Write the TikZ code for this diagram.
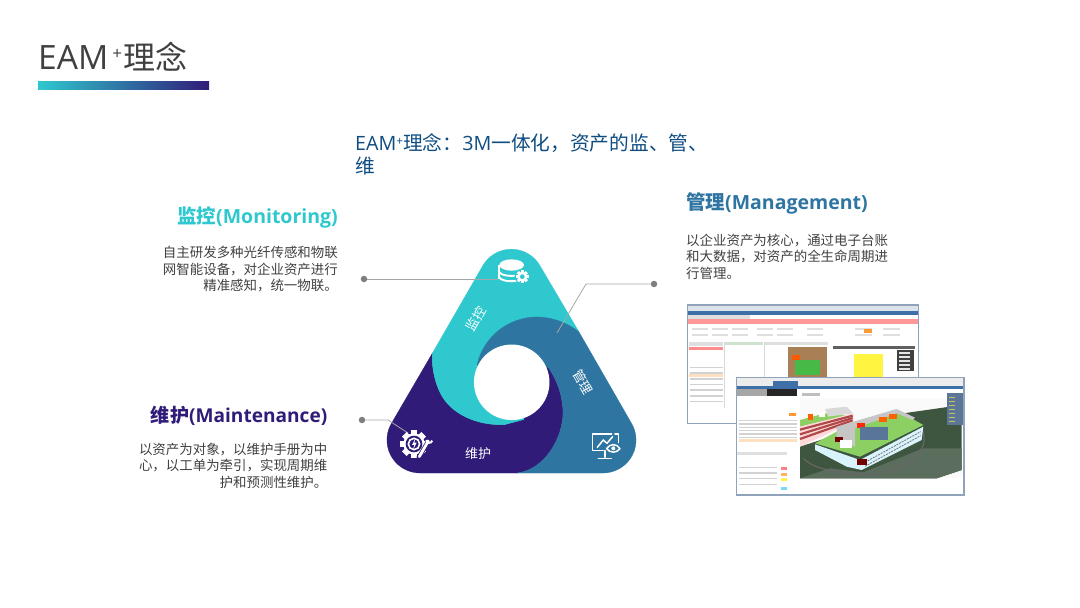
\documentclass[tikz,border=0pt]{standalone}
\usepackage{fontspec}
\setmainfont{Open Sans}
\newfontfamily\cjk{Noto Sans CJK SC}
\usepackage{xcolor}
\usetikzlibrary{positioning,calc}
\definecolor{eamteal}{HTML}{2EC8CE}
\definecolor{eamblue}{HTML}{2E75A2}
\definecolor{eampurple}{HTML}{301C78}
\definecolor{eamline}{HTML}{A6A6A6}
\definecolor{eamdot}{HTML}{7F7F7F}
\definecolor{eamtext}{HTML}{404040}
\definecolor{eamlead}{HTML}{0F4C81}
\definecolor{eamframe}{HTML}{8FA3BA}
\definecolor{winbar}{HTML}{3F6FA8}
\definecolor{ground}{HTML}{3E5540}
\definecolor{roof}{HTML}{8CCF62}
\definecolor{stripe}{HTML}{B04A4A}
\tikzset{
  titlelabel/.style={anchor=base west, inner sep=0pt, text=eamtext},
  leadlabel/.style={anchor=base west, inner sep=0pt, text=eamlead, align=left,
    font=\fontsize{19.7}{23}\selectfont},
  headlabel/.style={inner sep=0pt, font=\fontsize{19.5}{23}\selectfont\bfseries},
  bodylabel/.style={inner sep=0pt, text=eamtext, font=\fontsize{13.45}{16.5}\selectfont\cjk},
  petallabel/.style={inner sep=0pt, text=white, font=\fontsize{13}{15}\selectfont\cjk},
  leaderdot/.style={circle, fill=eamdot, inner sep=0pt, minimum size=6.5pt},
  leaderline/.style={draw=eamline, line width=0.8pt},
  petal/.style={line width=0.3pt, line join=round},
  iconline/.style={draw=white, line width=1.5pt, line cap=round, line join=round},
  winframe/.style={draw=eamframe, line width=1.3pt, fill=white},
}
\newcommand{\gearshape}[3]{% centre, radius, colour
  \foreach \a in {0,45,...,135}
    \fill[#3, rotate around={\a:(#1)}] ($(#1)+(-#2*1.28,-#2*0.3)$) rectangle ($(#1)+(#2*1.28,#2*0.3)$);
  \fill[#3] (#1) circle[radius=#2];
}
\begin{document}
\begin{tikzpicture}[x=1pt, y=-1pt]
  \useasboundingbox (0,0) rectangle (1080,608);

  % title
  \node (title) [titlelabel, font=\fontsize{33.5}{38}\selectfont] at (38,69)
    {EAM\hspace{4pt}\raisebox{10pt}{\fontsize{17}{17}\selectfont +}\hspace{1.5pt}{\cjk\fontsize{32}{38}\selectfont 理念}};
  \shade[left color=eamteal, middle color=eamblue, right color=eampurple] (38,81) rectangle (209,89);

  % lead text
  \node (lead) [leadlabel] at (355,173)
    {EAM\raisebox{5pt}{\fontsize{12}{12}\selectfont +}{\cjk 理念：}3M{\cjk 一体化，资产的监、管、}\\{\cjk 维}};

  % triangle
  \fill[eampurple, draw=eampurple, petal] (432.5,353) -- (391.4,423.5)
    arc[start angle=210, end angle=90, x radius=33, y radius=33] -- (517,473)
    .. controls (545,470) and (563,437) .. (563,413)
    .. controls (563,395) and (556,378) .. (548,367) -- (512,382) -- (524,419.5) -- (505,424.5)
    .. controls (480,426) and (458,416) .. (447,403)
    .. controls (437,392) and (431,370) .. cycle;
  \fill[eamteal, draw=eamteal, petal] (482.8,265.7)
    arc[start angle=210, end angle=330, x radius=33, y radius=33] -- (579,332) -- (512,382) -- (524,419.5) -- (505,424.5)
    .. controls (480,426) and (458,416) .. (447,403)
    .. controls (437,392) and (431,370) .. (432.5,353) -- cycle;
  \fill[eamblue, draw=eamblue, petal] (579,332) -- (631.6,423.5)
    arc[start angle=-30, end angle=90, x radius=33, y radius=33] -- (517,473)
    .. controls (545,470) and (563,437) .. (563,413)
    .. controls (563,395) and (556,378) .. (548,367) -- (512,382) -- (477,365)
    .. controls (484,335) and (510,317) .. (537,317)
    .. controls (552,317) and (568,323) .. cycle;
  \node (hole) [circle, fill=white, inner sep=0pt, minimum size=75.5pt] at (511.7,382.3) {};

  \node (petalmon) [petallabel, rotate=60] at (476,319) {监控};
  \node (petalman) [petallabel, rotate=-60] at (583,382) {管理};
  \node (petalmai) [petallabel] at (478,454) {维护};

  % leaders
  \node (dotmon) [leaderdot] at (364,279) {};
  \node (dotman) [leaderdot] at (654,284) {};
  \node (dotmai) [leaderdot] at (362,420) {};
  \coordinate (endmon) at (498,279);
  \coordinate (kneeman) at (586,284);
  \coordinate (endman) at (557,333);
  \coordinate (kneemai) at (388,420);
  \coordinate (endmai) at (408,433);
  \draw[leaderline] (dotmon) -- (endmon);
  \draw[leaderline] (dotman) -- (kneeman) -- (endman);
  \draw[leaderline] (dotmai) -- (kneemai) -- (endmai);

  % icons, in the reference crop's pixels
  \begin{scope}[shift={(370,240)}, x=0.3333pt, y=-0.3333pt]
    % database and gear
    \fill[white] (425,75) ellipse[x radius=37, y radius=17];
    \foreach \yy in {96,112}
      \draw[white, line width=1.9pt] (388,\yy) .. controls (395,\yy+13) and (430,\yy+13) .. (442,\yy+10);
    \draw[white, line width=1.9pt] (388,75) -- (388,118);
    \fill[eamteal] (457,110) circle[radius=23];
    \gearshape{457,110}{15}{white}
    \fill[eamteal] (457,110) circle[radius=7];
    % monitor and eye
    \draw[iconline] (725,582) -- (668,582) -- (668,632) -- (700,632);
    \draw[iconline] (745,608) -- (745,582) -- (735,582);
    \draw[iconline] (705,632) -- (705,652);
    \draw[iconline] (685,656) -- (724,656);
    \draw[iconline] (682,622) -- (700,600) -- (711,610) -- (728,590);
    \draw[iconline] (710,626) .. controls (720,610) and (740,610) .. (750,626)
      .. controls (740,640) and (720,640) .. cycle;
    \fill[white] (730,625) circle[radius=6];
    % gear and wrench
    \gearshape{132,612}{32}{white}
    \fill[eampurple] (132,612) circle[radius=25];
    \draw[white, line width=1.6pt] (132,612) circle[radius=17];
    \fill[white] (136,596) -- (126,615) -- (133,615) -- (129,629) -- (140,608) -- (133,608) -- cycle;
    \draw[eampurple, line width=4.5pt] (182,592) -- (145,655);
    \draw[white, line width=2.8pt, line cap=round] (175,603) -- (148,650);
    \draw[white, line width=2pt] (169,600) .. controls (172,610) and (182,612) .. (187,602);
  \end{scope}

  % headings and texts
  \node (headmon) [headlabel, text=eamteal, anchor=east] at (338,217.5) {{\cjk\bfseries 监控}(Monitoring)};
  \node (bodymon) [bodylabel, align=right, below=18pt of headmon.south east, anchor=north east]
    {自主研发多种光纤传感和物联\\网智能设备，对企业资产进行\\精准感知，统一物联。};
  \node (headman) [headlabel, text=eamblue, anchor=west] at (686,203.5) {{\cjk\bfseries 管理}(Management)};
  \node (bodyman) [bodylabel, align=left, below=19pt of headman.south west, anchor=north west]
    {以企业资产为核心，通过电子台账\\和大数据，对资产的全生命周期进\\行管理。};
  \node (headmai) [headlabel, text=eampurple, anchor=east, font=\fontsize{19.1}{23}\selectfont\bfseries] at (327.5,416) {{\cjk\bfseries 维护}(Maintenance)};
  \node (bodymai) [bodylabel, align=right, below=17pt of headmai.south east, anchor=north east]
    {以资产为对象，以维护手册为中\\心，以工单为牵引，实现周期维\\护和预测性维护。};

  % screenshots, in the reference crop's pixels
  \begin{scope}[shift={(680,295)}, x=0.3333pt, y=-0.3333pt]
    \path[winframe] (22,30) rectangle (716,385);
    \fill[eamframe!30] (24,33) rectangle (714,47);
    \fill[winbar] (24,47) rectangle (714,59);
    \fill[gray!25] (24,60) rectangle (210,72);
    \fill[red!40] (24,73) rectangle (714,87);
    \foreach \xx in {35,95,155,230,290,380,525,610}
      \foreach \yy in {100,118}
        \fill[gray!25] (\xx,\yy) rectangle ++(50,5);
    \fill[orange!80] (552,103) rectangle (576,114);
    \fill[gray!25] (26,142) rectangle (130,152);
    \fill[red!45] (26,155) rectangle (130,165);
    \foreach \yy in {215,232,...,320}
      \fill[gray!35] (30,\yy) rectangle (128,\yy+5);
    \fill[orange!25] (26,236) rectangle (130,247);
    \fill[green!25!gray!30] (136,140) rectangle (250,150);
    \draw[gray!30] (134,140) -- (134,340) (252,140) -- (252,250);
    \fill[gray!25] (256,140) rectangle (445,150);
    \fill[brown!65!gray] (325,155) rectangle (440,250);
    \fill[green!45!gray] (345,195) rectangle (420,240);
    \fill[orange!70!red] (335,180) rectangle (360,195);
    \fill[gray!75!black] (458,152) rectangle (705,162);
    \fill[yellow!75] (522,178) rectangle (610,250);
    \fill[black!75] (652,165) rectangle (703,228);
    \foreach \yy in {172,184,...,222}
      \fill[white!80!gray] (658,\yy) rectangle (690,\yy+4);
    % second window
    \path[winframe] (170,248) rectangle (852,600);
    \fill[gray!15] (172,250) rectangle (850,272);
    \fill[winbar] (280,258) rectangle (355,272);
    \fill[winbar] (172,272) rectangle (850,281);
    \fill[gray!70] (172,282) rectangle (260,302);
    \fill[black!85] (260,282) rectangle (352,302);
    \foreach \yy in {375,385,...,435}
      \fill[gray!35] (178,\yy) rectangle (350,\yy+4);
    \fill[orange!25] (176,432) rectangle (350,441);
    \fill[orange!80] (327,354) rectangle (348,364);
    \fill[gray!25] (172,470) rectangle (320,481);
    \foreach \yy in {515,532,549,566}
      \fill[gray!35] (178,\yy) rectangle (290,\yy+4);
    \fill[red!50] (302,516) rectangle (322,524);
    \fill[orange!60] (302,534) rectangle (322,542);
    \fill[yellow!70] (302,550) rectangle (322,558);
    \fill[cyan!50] (302,577) rectangle (322,585);
    \fill[gray!50] (365,295) rectangle (420,304);
  \end{scope}

  % 3D view
  \begin{scope}[shift={(790,385)}, x=0.3333pt, y=-0.3333pt]
    \fill[gray!4] (30,40) rectangle (515,280);
    \fill[ground] (30,280) -- (30,185) -- (340,85) -- (515,60) -- (515,255) -- (440,280) -- cycle;
    \fill[ground!85!white] (30,280) -- (120,250) -- (220,262) -- (400,190) -- (515,190) -- (515,255) -- (440,280) -- cycle;
    \draw[black!60, line width=1.2pt] (40,220) .. controls (80,260) and (160,262) .. (230,270)
      .. controls (340,262) and (430,200) .. (395,130);
    % left wing
    \fill[roof] (30,105) -- (105,85) -- (170,92) -- (30,125) -- cycle;
    \fill[gray!30] (105,72) -- (170,65) -- (190,85) -- (115,95) -- cycle;
    \fill[white!85!red] (30,125) -- (190,85) -- (190,110) -- (30,185) -- cycle;
    \foreach \tt in {0,14,28}
      \draw[stripe, line width=2.2pt] (30,134+\tt) -- (188,92+0.5*\tt);
    \fill[orange!75!red] (55,88) rectangle (70,105);
    \fill[white] (88,82) rectangle (105,95);
    % main building
    \fill[white!85!cyan] (75,178) -- (210,225) -- (400,125) -- (395,165) -- (215,255) -- (170,245) -- (75,195) -- cycle;
    \fill[roof] (75,175) -- (140,140) -- (320,75) -- (400,120) -- (210,215) -- cycle;
    \fill[gray!45] (140,125) -- (320,72) -- (375,98) -- (368,105) -- (320,85) -- (195,130) -- (195,185) -- (140,155) -- cycle;
    \foreach \tt in {0,12}
      \draw[black!55, line width=0.8pt, dash pattern=on 2pt off 1pt] (225,232+\tt) -- (392,140+\tt);
    \fill[orange!75!red] (268,95) rectangle (290,110);
    \fill[orange!75!red] (298,87) rectangle (320,102);
    \fill[red!70!orange] (200,115) rectangle (225,130);
    \fill[winbar!60!gray] (210,125) rectangle (295,165);
    \fill[red!45!black] (135,155) rectangle (160,170);
    \fill[white] (150,165) rectangle (185,190);
    \fill[red!45!black] (200,222) rectangle (230,240);
    % side panel
    \fill[winbar!55!gray] (470,25) rectangle (518,120);
    \foreach \yy in {35,47,...,110}
      \fill[yellow!50!gray] (476,\yy) rectangle (494,\yy+4);
  \end{scope}
\end{tikzpicture}
\end{document}
